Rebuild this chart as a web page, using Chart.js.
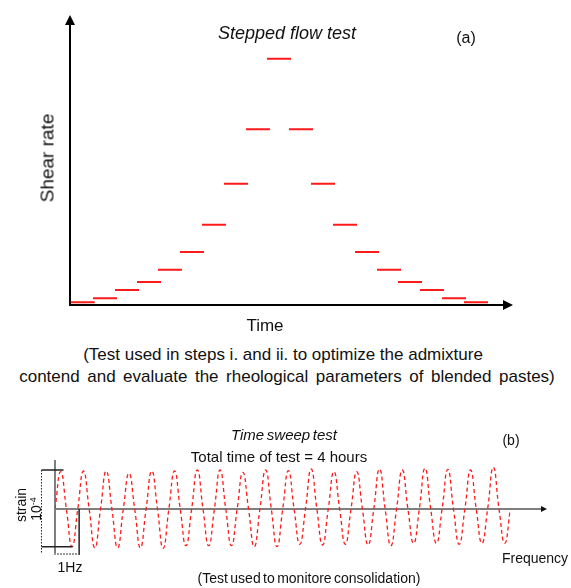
<!DOCTYPE html>
<html>
<head>
<meta charset="utf-8">
<script src="https://cdn.jsdelivr.net/npm/chart.js@4.4.1/dist/chart.umd.min.js"></script>
<style>
  body { margin: 0; background: #fff; }
  #wrap { position: relative; width: 571px; height: 588px; overflow: hidden; font-family: Arial, "Liberation Sans", sans-serif; color: #111; }
  canvas { position: absolute; left: 0; }
  .t { position: absolute; white-space: nowrap; transform: translate(-50%, -50%); line-height: 1; }
  .rot { transform: translate(-50%, -50%) rotate(-90deg); }
</style>
</head>
<body>
<div id="wrap">
  <canvas id="flow" width="571" height="330" style="top:0"></canvas>
  <canvas id="sweep" width="571" height="188" style="top:400px"></canvas>

  <div class="t" style="left:287px;top:33px;font-size:18px;font-style:italic">Stepped flow test</div>
  <div class="t" style="left:466px;top:38px;font-size:16px">(a)</div>
  <div class="t rot" style="left:47px;top:158px;font-size:19px">Shear rate</div>
  <div class="t" style="left:265px;top:325px;font-size:17px">Time</div>
  <div class="t" style="left:283px;top:354px;font-size:17px">(Test used in steps i. and ii. to optimize the admixture</div>
  <div class="t" style="left:287px;top:376px;font-size:17px;word-spacing:2.8px">contend and evaluate the rheological parameters of blended pastes)</div>

  <div class="t" style="left:284px;top:434px;font-size:15px;font-style:italic;word-spacing:-1.5px">Time sweep test</div>
  <div class="t" style="left:511px;top:440px;font-size:14px">(b)</div>
  <div class="t" style="left:279px;top:456px;font-size:15px">Total time of test = 4 hours</div>
  <div class="t rot" style="left:21px;top:505px;font-size:14px">strain</div>
  <div class="t rot" style="left:36px;top:509px;font-size:14px">10<sup style="font-size:9px">-4</sup></div>
  <div class="t" style="left:70px;top:567px;font-size:14px">1Hz</div>
  <div class="t" style="left:535px;top:558px;font-size:14px">Frequency</div>
  <div class="t" style="left:309px;top:578px;font-size:14px;word-spacing:-1.5px">(Test used to monitore consolidation)</div>
</div>

<script>
// (a) stepped flow test: start time of each step and its shear rate level
const stepStart = [0.7, 23, 45, 67, 88, 110, 132, 154, 176, 197, 219, 241, 263, 285, 307, 328, 350, 372, 394];
const stepLength = 24;
const shearRate = [2.7, 6.7, 15, 23, 35.3, 53, 80.3, 121.3, 175.7, 246.3, 175.7, 121.3, 80.3, 53, 35.3, 23, 15, 6.7, 2.7];

// (b) time sweep: peak and trough strain of each cycle
const cycles = 20;
const peaks = [37.3, 38, 38, 35.7, 38, 38, 39, 39, 36.7, 39, 38.3, 40, 37.3, 37.3, 40, 39, 40.7, 39.7, 39, 41.7];
const troughs = [-37.7, -38.7, -38.7, -38.7, -39.3, -36.7, -36.7, -36.7, -37.7, -37.7, -35.3, -36, -35.3, -36, -36.7, -34.3, -34.3, -35.3, -34.3, -34.3];

function arrowAxes() {
  return {
    id: 'arrowAxes',
    beforeDatasetsDraw(chart, args, a) {
      const ctx = chart.ctx;
      ctx.save();
      ctx.strokeStyle = a.color;
      ctx.lineWidth = a.width;
      ctx.beginPath();
      ctx.moveTo(a.x0, a.y0); ctx.lineTo(a.xEnd - a.head, a.y0);
      ctx.moveTo(a.x0, a.yBottom); ctx.lineTo(a.x0, a.yTop + (a.yArrow ? a.head : 0));
      ctx.stroke();
      ctx.fillStyle = a.arrowColor;
      ctx.beginPath();
      ctx.moveTo(a.xEnd, a.y0);
      ctx.lineTo(a.xEnd - a.head, a.y0 - a.half);
      ctx.lineTo(a.xEnd - a.head, a.y0 + a.half);
      ctx.closePath();
      ctx.fill();
      if (a.yArrow) {
        ctx.beginPath();
        ctx.moveTo(a.x0, a.yTop);
        ctx.lineTo(a.x0 - a.half, a.yTop + a.head);
        ctx.lineTo(a.x0 + a.half, a.yTop + a.head);
        ctx.closePath();
        ctx.fill();
      }
      ctx.restore();
    }
  };
}

// segments separated by gaps
const stepData = [];
stepStart.forEach((s, i) => {
  stepData.push({ x: s, y: shearRate[i] }, { x: s + stepLength, y: shearRate[i] }, { x: s + stepLength, y: null });
});

new Chart(document.getElementById('flow'), {
  type: 'line',
  data: {
    datasets: [{
      data: stepData,
      borderColor: '#ff1a1a',
      borderWidth: 2,
      pointRadius: 0,
      spanGaps: false,
      tension: 0
    }]
  },
  options: {
    responsive: false,
    animation: false,
    layout: { padding: { left: 70, right: 59, top: 15, bottom: 25 } },
    scales: {
      x: { type: 'linear', min: 0, max: 442, display: false },
      y: { min: 0, max: 290, display: false }
    },
    plugins: {
      legend: { display: false },
      tooltip: { enabled: false },
      arrowAxes: { color: '#000', arrowColor: '#000', width: 2, x0: 70, y0: 305, xEnd: 513, yBottom: 306, yTop: 15, yArrow: true, head: 10, half: 5 }
    }
  },
  plugins: [arrowAxes()]
});

// strain wave: zero crossings, peaks and troughs at quarter cycles
const wave = [];
for (let i = 0; i < cycles; i++) {
  wave.push({ x: i, y: 0 }, { x: i + 0.25, y: peaks[i] }, { x: i + 0.5, y: 0 }, { x: i + 0.75, y: troughs[i] });
}
wave.push({ x: cycles, y: 0 });

const markers = {
  id: 'markers',
  afterDraw(chart) {
    const ctx = chart.ctx;
    const xs = chart.scales.x, ys = chart.scales.y;
    const yTop = ys.getPixelForValue(39), yBot = ys.getPixelForValue(-37.7), y0 = ys.getPixelForValue(0);
    const xHz = xs.getPixelForValue(1.06);
    ctx.save();
    ctx.strokeStyle = '#222';
    ctx.lineWidth = 1.5;
    ctx.beginPath();
    ctx.moveTo(41.5, yTop); ctx.lineTo(63.5, yTop);
    ctx.moveTo(41.5, yBot); ctx.lineTo(72.5, yBot);
    ctx.moveTo(xHz, y0); ctx.lineTo(xHz, 155);
    ctx.stroke();
    ctx.lineWidth = 1;
    ctx.setLineDash([1.5, 1.5]);
    ctx.beginPath();
    ctx.moveTo(41.5, yTop); ctx.lineTo(41.5, 153);
    ctx.stroke();
    ctx.strokeStyle = '#999';
    ctx.lineWidth = 2;
    ctx.setLineDash([2, 1]);
    ctx.beginPath();
    ctx.moveTo(54, 154); ctx.lineTo(78, 154);
    ctx.stroke();
    ctx.restore();
  }
};

new Chart(document.getElementById('sweep'), {
  type: 'line',
  data: {
    datasets: [{
      data: wave,
      borderColor: '#ff1a1a',
      borderWidth: 1.3,
      borderDash: [4, 3],
      pointRadius: 0,
      tension: 0.5
    }]
  },
  options: {
    responsive: false,
    animation: false,
    layout: { padding: { left: 55, right: 60.6, top: 64, bottom: 34 } },
    scales: {
      x: { type: 'linear', min: 0, max: cycles, display: false },
      y: { min: -45, max: 45, display: false }
    },
    plugins: {
      legend: { display: false },
      tooltip: { enabled: false },
      arrowAxes: { color: '#7f7f7f', arrowColor: '#111', width: 2, x0: 55, y0: 109, xEnd: 547, yBottom: 155, yTop: 60, yArrow: false, head: 6, half: 3 }
    }
  },
  plugins: [arrowAxes(), markers]
});
</script>
</body>
</html>
